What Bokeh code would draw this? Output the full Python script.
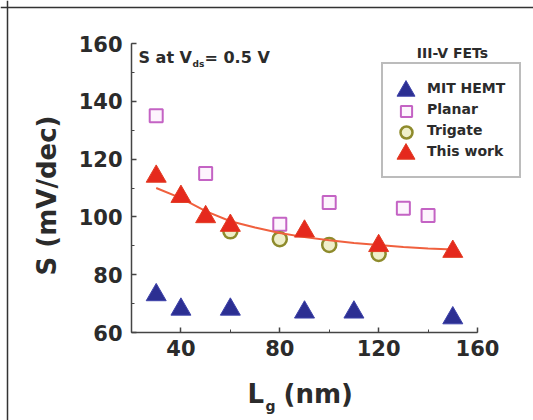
import math
from bokeh.plotting import figure
from bokeh.models import Range1d, SingleIntervalTicker, Label, Legend, LegendItem, Span
from bokeh.embed import file_html
from bokeh.resources import INLINE

# ---- data ----
mit_lg = [30, 40, 60, 90, 110, 150]
mit_s = [73, 68, 68, 67, 67, 65]

planar_lg = [30, 50, 80, 100, 130, 140]
planar_s = [135, 115, 97.5, 105, 103, 100.5]

trigate_lg = [60, 80, 100, 120]
trigate_s = [95, 92.3, 90.3, 87.2]

work_lg = [30, 40, 50, 60, 90, 120, 150]
work_s = [114, 107, 100, 97, 95, 90, 88]

fit_lg = [30, 40, 50, 60, 70, 80, 90, 100, 110, 120, 130, 140, 150]
fit_s = [110, 106.5, 102, 98.5, 96.3, 94.4, 93, 91.9, 91, 90.3, 89.6, 89.1, 88.7]

series_names = ["MIT HEMT", "Planar", "Trigate", "This work"]
legend_title = "III-V FETs"
x_label_main, x_label_sub, x_label_unit = "L", "g", "(nm)"
y_label = "S (mV/dec)"
note_main, note_sub, note_tail = "S at V", "ds", "= 0.5 V"
x_lim = (20, 160)
y_lim = (60, 160)

# ---- layout (canvas pixels) ----
W, H = 533, 420
X0_PX, X1_PX = 131, 477     # pixel of x_lim ends
Y0_PX, Y1_PX = 332, 43      # pixel of y_lim ends
KX = (X1_PX - X0_PX) / (x_lim[1] - x_lim[0])
KY = (Y0_PX - Y1_PX) / (y_lim[1] - y_lim[0])

def dx(px):
    return x_lim[0] + (px - X0_PX) / KX

def dy(py):
    return y_lim[0] + (Y0_PX - py) / KY

FONT = "DejaVu Sans"
TXT = "#2b2b2b"

p = figure(width=W, height=H, output_backend="svg", toolbar_location=None,
           x_range=Range1d(dx(0), dx(W)), y_range=Range1d(dy(H), dy(0)),
           min_border=0, background_fill_color="white", border_fill_color="white")
p.outline_line_color = None
p.grid.visible = False

xa, ya = p.xaxis[0], p.yaxis[0]
xa.fixed_location = y_lim[0]
ya.fixed_location = x_lim[0]
xa.bounds = x_lim
ya.bounds = y_lim
xa.ticker = SingleIntervalTicker(interval=40, num_minor_ticks=2)
ya.ticker = SingleIntervalTicker(interval=20, num_minor_ticks=2)
for ax in (xa, ya):
    ax.axis_line_color = "#444444"
    ax.axis_line_width = 1.5
    ax.major_tick_line_color = "#444444"
    ax.minor_tick_line_color = "#444444"
    ax.major_tick_line_width = 1.5
    ax.major_tick_in = 5
    ax.major_tick_out = 0
    ax.minor_tick_in = 3
    ax.minor_tick_out = 0
    ax.major_label_text_font = FONT
    ax.major_label_text_font_style = "bold"
    ax.major_label_text_font_size = "21px"
    ax.major_label_text_color = TXT
ya.major_label_standoff = 9
xa.major_label_standoff = 7

# picture border (top and left edges of the photo frame)
p.add_layout(Span(location=dx(7), dimension="height", line_color="#333333", line_width=1.5))
p.add_layout(Span(location=dy(7), dimension="width", line_color="#333333", line_width=1.5))

# data marks
r_planar = p.scatter(planar_lg, planar_s, marker="square", size=13,
                     fill_color="#fdf4fd", line_color="#c463c4", line_width=2)
r_tri = p.scatter(trigate_lg, trigate_s, marker="circle", size=14,
                  fill_color="#efefca", line_color="#8e8b2c", line_width=2.5)
p.line(fit_lg, fit_s, line_color="#f0603e", line_width=2)
r_work = p.scatter(work_lg, work_s, marker="triangle", size=20,
                   fill_color="#e5291d", line_color="#e23c22", line_width=1)
r_mit = p.scatter(mit_lg, mit_s, marker="triangle", size=20,
                  fill_color="#2c2f92", line_color="#3d42aa", line_width=1)

# invisible proxies for the framed legend (labels only)
proxies = [p.scatter([], [], marker="square", fill_alpha=0, line_alpha=0) for _ in series_names]

# framed legend with the four labels
BOX_LEFT, ROW0, ROW_H, PAD = 381, 65.5, 21, 14
leg_main = Legend(items=[LegendItem(label=n, renderers=[r]) for n, r in zip(series_names, proxies)],
                  location=(BOX_LEFT, H - (ROW0 + 2 * PAD + 4 * ROW_H)), orientation="vertical",
                  glyph_width=23, glyph_height=ROW_H, label_height=ROW_H, spacing=0,
                  padding=PAD, margin=0, label_standoff=7,
                  label_text_font=FONT, label_text_font_style="bold",
                  label_text_font_size="14px", label_text_color=TXT,
                  border_line_color="#7a7a7a", border_line_width=2,
                  background_fill_color="white", background_fill_alpha=1.0)
p.add_layout(leg_main)

# one small borderless legend per row, so each symbol can have its own size
GLYPH_CX = 405.5
for i, (r, g) in enumerate(zip([r_mit, r_planar, r_tri, r_work], [45, 28, 30, 45])):
    cy = ROW0 + PAD + ROW_H * i + ROW_H / 2
    leg = Legend(items=[LegendItem(label=" ", renderers=[r])],
                 location=(GLYPH_CX - g / 2, H - cy - g / 2),
                 glyph_width=g, glyph_height=g, label_height=g, spacing=0,
                 padding=0, margin=0, label_standoff=0, label_width=1,
                 label_text_font_size="10px", label_text_alpha=0,
                 border_line_color=None, background_fill_alpha=0)
    p.add_layout(leg)

def lab(px, py, text, size, align="left", baseline="alphabetic", angle=0.0):
    p.add_layout(Label(x=dx(px), y=dy(py), text=text, text_font=FONT, text_font_style="bold",
                       text_font_size=size, text_color=TXT, angle=angle,
                       text_align=align, text_baseline=baseline))

# legend title
lab(452, 52, legend_title, "14px", align="center", baseline="middle")
# annotation with subscript
lab(138, 56.5, note_main, "16px")
lab(192, 63, note_sub, "9px")
lab(204, 56.5, note_tail, "16px")
# x axis label with subscript
lab(247, 393.3, x_label_main, "26px")
lab(265, 405, x_label_sub, "14px")
lab(283, 393.3, x_label_unit, "26px")
# y axis label (rotated)
lab(46, 195, y_label, "26px", align="center", baseline="middle", angle=math.pi / 2)

open("out.html", "w").write(file_html(p, INLINE))
